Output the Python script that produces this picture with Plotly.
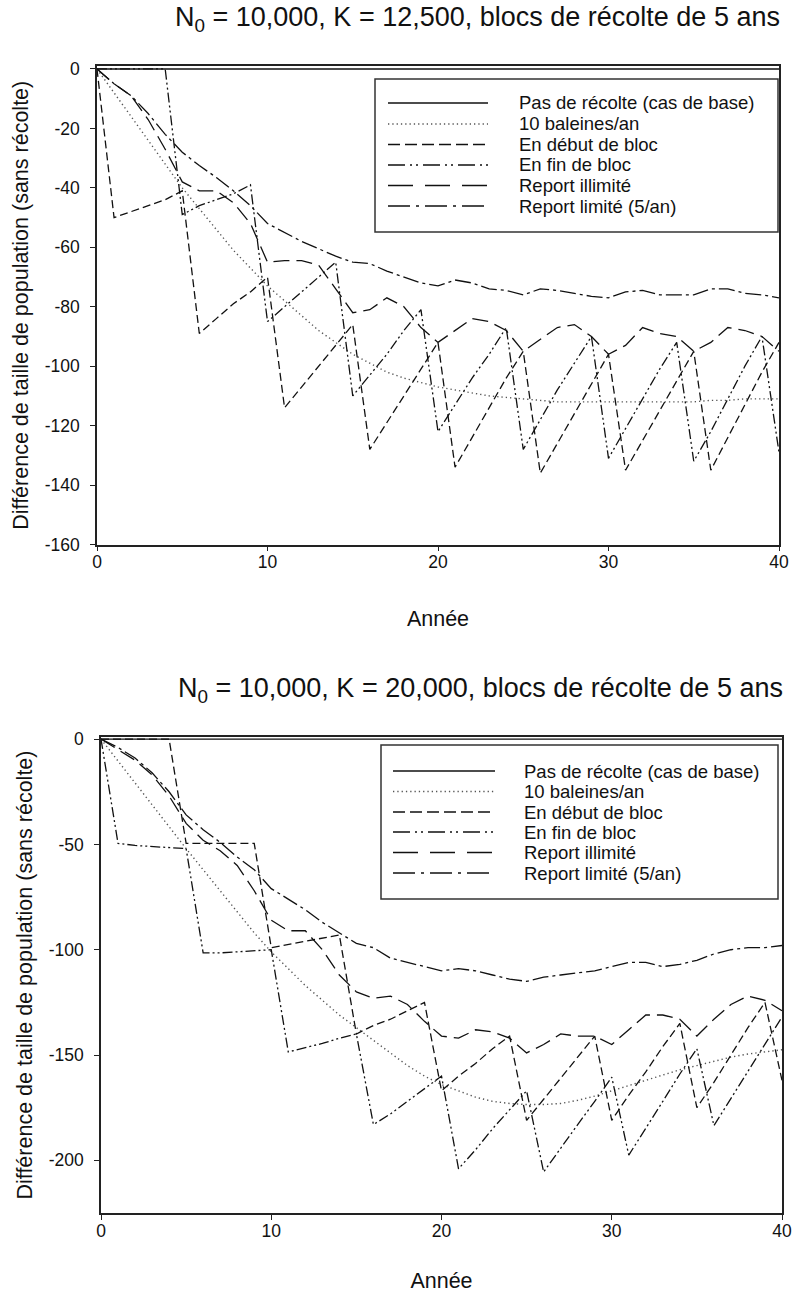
import plotly.graph_objects as go
from plotly.subplots import make_subplots

# ---------------- data ----------------
years = list(range(41))

series_names = ["Pas de récolte (cas de base)", "10 baleines/an", "En début de bloc",
                "En fin de bloc", "Report illimité", "Report limité (5/an)"]

# Top panel: N0 = 10,000, K = 12,500
top_base = [0, 0, 0, 0, 0, 0, 0, 0, 0, 0, 0, 0, 0, 0, 0, 0, 0, 0, 0, 0, 0,
            0, 0, 0, 0, 0, 0, 0, 0, 0, 0, 0, 0, 0, 0, 0, 0, 0, 0, 0, 0]
top_10 = [0, -8, -16, -24, -32, -40, -47, -54, -61, -67, -73, -78, -83, -88, -92, -96,
          -99, -102, -104, -105.5, -107, -108, -109, -110, -110.5, -111, -111.5, -112,
          -112, -112, -112, -112, -112, -112, -112, -112, -111.5, -111.5, -111, -111, -111]
top_debut = [0, -50, -48, -46, -44, -41, -89, -84, -79, -75, -70, -114, -107, -100, -93,
             -86, -128, -119, -110, -101, -92, -134, -124, -114, -104, -95, -136, -126,
             -116, -106, -96, -135, -125, -115, -105, -95, -135, -124, -113, -102, -92]
top_fin = [0, 0, 0, 0, 0, -49, -46, -44, -42, -39, -85, -80, -75, -70, -65, -110, -103,
           -96, -88, -81, -122, -113, -104, -96, -87, -128, -118, -108, -99, -90, -131,
           -121, -111, -101, -92, -132, -122, -111, -100, -90, -129]
top_illimite = [0, -5, -9, -17, -27, -38, -41, -41, -45, -52, -65, -64.5, -64.5, -66,
                -74, -82, -81, -77, -80, -87, -92, -88, -84, -85, -88, -95, -91, -87, -86,
                -90, -96, -93, -87, -89, -90, -95, -92, -87, -88, -90, -95]
top_limite = [0, -5, -9, -15, -22, -28, -32.5, -36.5, -41, -46, -52, -55, -58, -60.5,
              -63, -65, -65.5, -68, -70, -72, -73, -71, -72, -74, -74.5, -76, -74, -74.5,
              -75.5, -76.5, -77, -75, -74.5, -76, -76, -76, -74, -74, -75.5, -76, -77]

# Bottom panel: N0 = 10,000, K = 20,000
bot_base = [0, 0, 0, 0, 0, 0, 0, 0, 0, 0, 0, 0, 0, 0, 0, 0, 0, 0, 0, 0, 0,
            0, 0, 0, 0, 0, 0, 0, 0, 0, 0, 0, 0, 0, 0, 0, 0, 0, 0, 0, 0]
bot_10 = [0, -10.5, -21, -31.5, -42, -52, -62, -72, -82, -92, -101, -109, -117, -124,
          -131, -137, -143, -149, -155, -160, -164, -167, -170, -172, -173, -173.5,
          -173.5, -173, -171.5, -169.5, -167, -164.5, -162, -159.5, -157, -155, -153,
          -151, -149.5, -148.5, -147.5]
bot_debut = [0, 0, 0, 0, 0, -49.5, -49.5, -49.5, -49.5, -49.5, -99, -97.5, -96, -94.5,
             -93, -140, -136, -133, -129, -125, -167, -160, -154, -147, -141, -181, -171,
             -161, -151, -141, -181, -169, -158, -146, -135, -175, -163, -150, -137, -125,
             -162]
bot_fin = [0, -49.5, -50.5, -51, -51.5, -52, -101.5, -101.5, -101, -100.5, -100, -148.5,
           -146.5, -144.5, -142, -140, -183, -178, -172, -166, -160, -204, -195, -185,
           -176, -167, -205.5, -194, -183, -172, -160.5, -197.5, -185, -172, -159, -147,
           -183.5, -170.5, -158, -145, -132]
bot_illimite = [0, -5, -10, -17, -27, -40, -48, -53, -60, -72, -86, -91, -91, -100, -112,
                -120, -123, -122, -126, -134, -141, -142, -138, -139, -142, -149, -145,
                -140, -141, -141, -145, -138, -131, -131, -133, -141, -133, -126, -122,
                -124, -129]
bot_limite = [0, -4, -9, -16, -25, -36, -43, -49, -56, -62, -71, -76, -81, -87, -92, -97,
              -99, -104, -106, -108, -110, -109, -110, -112, -114, -115, -113, -112, -111,
              -110, -108, -106, -106, -108, -107, -105, -102, -100, -99, -99, -98]

top_series = [top_base, top_10, top_debut, top_fin, top_illimite, top_limite]
bot_series = [bot_base, bot_10, bot_debut, bot_fin, bot_illimite, bot_limite]

x_tickvals = [0, 10, 20, 30, 40]
x_ticktext = ["0", "10", "20", "30", "40"]
top_ytickvals = [0, -20, -40, -60, -80, -100, -120, -140, -160]
top_yticktext = ["0", "-20", "-40", "-60", "-80", "-100", "-120", "-140", "-160"]
bot_ytickvals = [0, -50, -100, -150, -200]
bot_yticktext = ["0", "-50", "-100", "-150", "-200"]

top_title = "N<sub>0</sub> = 10,000, K = 12,500, blocs de récolte de 5 ans"
bot_title = "N<sub>0</sub> = 10,000, K = 20,000, blocs de récolte de 5 ans"
x_title = "Année"
y_title = "Différence de taille de population (sans récolte)"

# ---------------- styles ----------------
FONT = "Liberation Sans, Arial, sans-serif"
INK = "#111111"
plot_dash = ["solid", "1.3px,3px", "8px,4px", "10px,3px,2px,3px,2px,3px", "16px,7px",
             "16px,4px,3px,4px"]
legend_dash = ["solid", "1.3px,3px", "12px,5px", "17px,5px,2px,4px,2px,5px", "25px,12px",
               "22px,6px,3px,6px"]
line_col = [INK, "#555555", INK, INK, INK, INK]
line_w = [1.4, 1.4, 1.3, 1.3, 1.3, 1.3]

W, H = 793, 1293
ML, MR, MT, MB = 97, 11, 66, 80
PW, PH = W - ML - MR, H - MT - MB


def fx(px):
    return (px - ML) / PW


def fy(py):
    return (H - MB - py) / PH


fig = make_subplots(rows=2, cols=1)

for row, data in ((1, top_series), (2, bot_series)):
    for i, name in enumerate(series_names):
        fig.add_trace(go.Scatter(x=years, y=data[i], mode="lines", name=name,
                                 showlegend=False,
                                 line=dict(color=line_col[i], width=line_w[i],
                                           dash=plot_dash[i])), row=row, col=1)

axis_common = dict(showline=True, linecolor="#222222", linewidth=1.5, mirror=True,
                   showgrid=False, zeroline=False, ticks="outside", ticklen=5,
                   tickwidth=1.3, tickcolor="#222222", automargin=False,
                   tickfont=dict(family=FONT, size=17.5, color="#111111"))
title_font = dict(family=FONT, size=21.5, color="#111111")

fig.update_layout(
    width=W, height=H, margin=dict(l=ML, r=MR, t=MT, b=MB),
    paper_bgcolor="white", plot_bgcolor="white", showlegend=False,
    xaxis=dict(domain=[0, fx(779)], range=[0, 40], tickvals=x_tickvals,
               ticktext=x_ticktext, ticklabelstandoff=-4,
               title=dict(text=x_title, standoff=40, font=title_font),
               **axis_common),
    yaxis=dict(domain=[fy(544.5), 1], range=[-160, 1], tickvals=top_ytickvals,
               ticktext=top_yticktext, ticklabelstandoff=7,
               title=dict(text=y_title, standoff=10, font=title_font),
               **axis_common),
    xaxis2=dict(domain=[fx(101), 1], range=[0, 40], tickvals=x_tickvals,
                ticktext=x_ticktext, ticklabelstandoff=-4,
                title=dict(text=x_title, standoff=40, font=title_font),
                **axis_common),
    yaxis2=dict(domain=[0, fy(737)], range=[-225, 1], tickvals=bot_ytickvals,
                ticktext=bot_yticktext, ticklabelstandoff=7,
                title=dict(text=y_title, standoff=10, font=title_font),
                **axis_common),
)

annotations = [
    dict(text=top_title, x=fx(782), y=fy(19), xref="paper", yref="paper",
         xanchor="right", yanchor="middle", showarrow=False,
         font=dict(family=FONT, size=27, color="#111111")),
    dict(text=bot_title, x=fx(785), y=fy(690), xref="paper", yref="paper",
         xanchor="right", yanchor="middle", showarrow=False,
         font=dict(family=FONT, size=27, color="#111111")),
]
shapes = []

# custom legends (long line samples as in the original)
legend_boxes = [
    dict(x0=375, x1=778, y0=79, y1=232, sx0=388, sx1=488, tx=517,
         rows=[103, 124, 144.5, 165, 185.5, 206]),
    dict(x0=381, x1=778, y0=745, y1=899, sx0=393, sx1=495, tx=522,
         rows=[771, 791.5, 812, 832, 852.5, 873]),
]
for box in legend_boxes:
    shapes.append(dict(type="rect", xref="paper", yref="paper",
                       x0=fx(box["x0"]), x1=fx(box["x1"]), y0=fy(box["y0"]),
                       y1=fy(box["y1"]), line=dict(color="#333333", width=1.5),
                       fillcolor="white", layer="above"))
    for i, name in enumerate(series_names):
        ry = box["rows"][i]
        shapes.append(dict(type="line", xref="paper", yref="paper",
                           x0=fx(box["sx0"]), x1=fx(box["sx1"]), y0=fy(ry), y1=fy(ry),
                           line=dict(color=line_col[i], width=line_w[i],
                                     dash=legend_dash[i]), layer="above"))
        annotations.append(dict(text=name, x=fx(box["tx"]), y=fy(ry), xref="paper",
                                yref="paper", xanchor="left", yanchor="middle",
                                showarrow=False,
                                font=dict(family=FONT, size=18.5, color="#111111")))

fig.update_layout(annotations=annotations, shapes=shapes)
# remove the default page margin so the figure sits at the window's top-left corner
fig.write_html("out.html", config={"displayModeBar": False},
               post_script="document.body.style.margin='0px';"
                           "document.body.style.overflow='hidden';")
